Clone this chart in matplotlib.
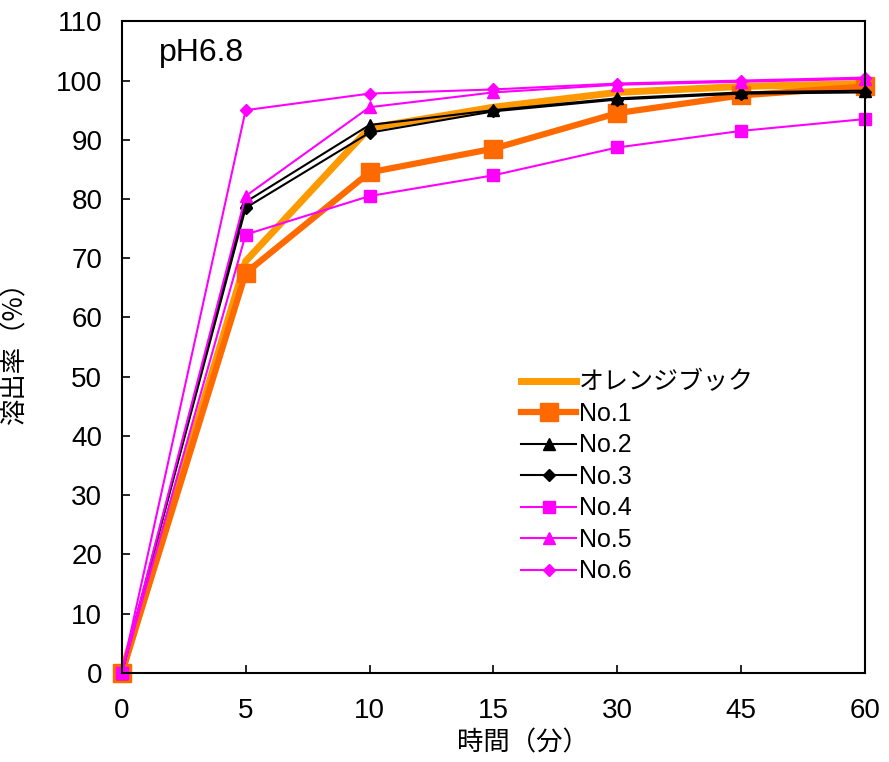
import matplotlib
matplotlib.use("Agg")
import matplotlib.pyplot as plt

plt.rcParams['font.family'] = ['Liberation Sans', 'Noto Sans CJK JP', 'DejaVu Sans']

# 時間（分）
jikan = ['0', '5', '10', '15', '30', '45', '60']

# 溶出率（%）
orange_book = [0, 69.5, 92.0, 95.5, 98.0, 99.0, 99.5]
no1 = [0, 67.5, 84.5, 88.5, 94.5, 97.5, 99.0]
no2 = [0, 79.5, 92.5, 95.0, 97.0, 98.0, 98.3]
no3 = [0, 78.5, 91.2, 94.8, 96.8, 97.8, 98.0]
no4 = [0, 74.0, 80.5, 84.0, 88.7, 91.5, 93.5]
no5 = [0, 80.5, 95.5, 98.0, 99.3, 99.8, 100.3]
no6 = [0, 95.0, 97.8, 98.5, 99.5, 100.0, 100.5]

x = range(len(jikan))

fig = plt.figure(figsize=(8.89, 7.62), dpi=100)
ax = fig.add_axes([0.137, 0.117, 0.836, 0.855])

kw = dict(clip_on=False)
ax.plot(x, orange_book, color='#FF9900', lw=5, label='オレンジブック', **kw)
ax.plot(x, no1, color='#FF6A00', lw=4.5, marker='s', ms=13, label='No.1', **kw)
ax.plot(x, no2, color='black', lw=1.5, marker='^', ms=8, label='No.2', **kw)
ax.plot(x, no3, color='black', lw=1.5, marker='D', ms=6, label='No.3', **kw)
ax.plot(x, no4, color='#FF00FF', lw=1.5, marker='s', ms=9, label='No.4', **kw)
ax.plot(x, no5, color='#FF00FF', lw=1.5, marker='^', ms=9, label='No.5', **kw)
ax.plot(x, no6, color='#FF00FF', lw=1.5, marker='D', ms=6, label='No.6', **kw)

ax.set_xlim(0, len(jikan) - 1)
ax.set_ylim(0, 110)
ax.set_xticks(list(x))
ax.set_xticklabels(jikan)
ax.set_yticks(range(0, 111, 10))
ax.tick_params(direction='in', length=6, width=1.2, labelsize=20)
ax.tick_params(axis='x', pad=18)
ax.tick_params(axis='y', pad=14)
for s in ax.spines.values():
    s.set_linewidth(1.5)

ax.set_xlabel('時間（分）', fontsize=19, family=['Noto Sans CJK JP'])
ax.xaxis.set_label_coords(0.54, -0.087)
ax.set_ylabel('溶出率（%）', fontsize=19, family=['Noto Sans CJK JP'])
ax.yaxis.set_label_coords(-0.125, 0.5)

ax.text(0.05, 0.975, 'pH6.8', transform=ax.transAxes, fontsize=23, va='top')

ax.legend(loc='upper left', bbox_to_anchor=(0.575, 0.527), bbox_transform=fig.transFigure,
          frameon=False, fontsize=18, handlelength=2.2, handletextpad=0.1,
          labelspacing=0.3, borderaxespad=0)

fig.savefig('out.png', dpi=100)
